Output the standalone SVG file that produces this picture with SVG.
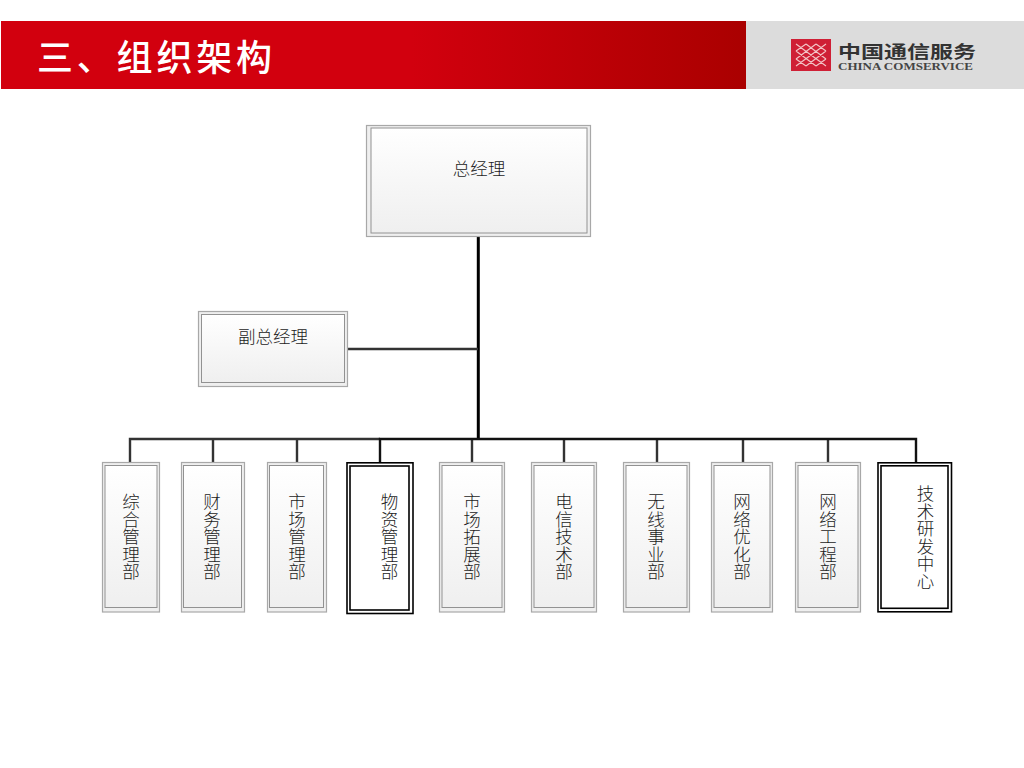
<svg xmlns="http://www.w3.org/2000/svg" width="1024" height="768" viewBox="0 0 1024 768">
<style>
.o{fill:#efefef;stroke:#a8a8a8;stroke-width:1.2}
.i{fill:url(#g);stroke:#929292;stroke-width:1}
.d{fill:#fff;stroke:#000;stroke-width:1.6}
.t{font-family:"Noto Sans CJK SC","Liberation Sans",sans-serif;font-size:17.5px;font-weight:300;fill:#1c1c1c;text-anchor:middle}
.c{fill:none;stroke:#333;stroke-width:2.4}
.k{fill:none;stroke:#111;stroke-width:2.4}
.b{fill:none;stroke:#000;stroke-width:3}
</style>
<defs>
<linearGradient id="g" x1="0" y1="0" x2="0" y2="1"><stop offset="0" stop-color="#ffffff"/><stop offset="1" stop-color="#efefef"/></linearGradient>
<linearGradient id="r" x1="0" y1="0" x2="1" y2="0"><stop offset="0" stop-color="#d2000e"/><stop offset="0.55" stop-color="#d2000e"/><stop offset="1" stop-color="#aa0000"/></linearGradient>
</defs>
<rect width="1024" height="768" fill="#fff"/>
<g id="header">
<rect x="1" y="21" width="745" height="68" fill="url(#r)"/>
<rect x="746" y="21" width="278" height="68" fill="#dcdcdc"/>
<text x="37" y="71" font-family="'Noto Sans CJK SC',sans-serif" font-size="36" font-weight="500" letter-spacing="3.8" fill="#fff">三、组织架构</text>
<g id="logo">
<rect x="791" y="39" width="40" height="32" fill="#cf1f35"/>
<path d="M796 44L826 66M806 44L826 59M816 44L826 51M796 51L816 66M796 59L806 66M826 44L796 66M816 44L796 59M806 44L796 51M826 51L806 66M826 59L816 66" stroke="#f3c3c6" stroke-width="1.2" fill="none"/>
<text x="838" y="57.500" font-family="'Noto Sans CJK SC',sans-serif" font-size="17" font-weight="700" textLength="138" lengthAdjust="spacingAndGlyphs" fill="#333">中国通信服务</text>
<text x="838" y="69.500" font-family="'Liberation Serif',serif" font-size="11" font-weight="700" textLength="135" lengthAdjust="spacingAndGlyphs" fill="#444">CHINA COMSERVICE</text>
</g>
</g>
<g id="connectors">
<path class="b" d="M478.300 237V439"/>
<path class="c" d="M348 349H478"/>
<path class="c" d="M130 462V439H380M213 439V462M297 439V462M472 439V462M564 439V462M657 439V462M743 439V462M828 439V462"/>
<path class="k" d="M380 462V439H916V462"/>
</g>
<g id="n-gm"><rect class="o" x="366.500" y="125.500" width="224" height="111"/><rect class="i" x="371" y="128" width="216" height="105"/><text class="t" x="479" y="175">总经理</text></g>
<g id="n-dgm"><rect class="o" x="198.500" y="311.500" width="149" height="75"/><rect class="i" x="201.500" y="314.500" width="143" height="68"/><text class="t" x="273" y="343">副总经理</text></g>
<g id="n1"><rect class="o" x="102.500" y="462.500" width="57" height="149.500"/><rect class="i" x="105" y="465.500" width="52" height="142"/><text class="t"><tspan x="131" y="508">综</tspan><tspan x="131" y="525.500">合</tspan><tspan x="131" y="543">管</tspan><tspan x="131" y="560.500">理</tspan><tspan x="131" y="578">部</tspan></text></g>
<g id="n2"><rect class="o" x="181.500" y="462.500" width="63" height="149.500"/><rect class="i" x="183.500" y="465.500" width="58" height="142"/><text class="t"><tspan x="212" y="508">财</tspan><tspan x="212" y="525.500">务</tspan><tspan x="212" y="543">管</tspan><tspan x="212" y="560.500">理</tspan><tspan x="212" y="578">部</tspan></text></g>
<g id="n3"><rect class="o" x="267.500" y="462.500" width="59" height="149.500"/><rect class="i" x="269.500" y="465.500" width="54" height="142"/><text class="t"><tspan x="297" y="508">市</tspan><tspan x="297" y="525.500">场</tspan><tspan x="297" y="543">管</tspan><tspan x="297" y="560.500">理</tspan><tspan x="297" y="578">部</tspan></text></g>
<g id="n4"><rect class="d" x="347" y="462.800" width="66" height="150.700"/><rect class="d" x="350" y="466" width="59" height="144"/><text class="t"><tspan x="389.500" y="508">物</tspan><tspan x="389.500" y="525.500">资</tspan><tspan x="389.500" y="543">管</tspan><tspan x="389.500" y="560.500">理</tspan><tspan x="389.500" y="578">部</tspan></text></g>
<g id="n5"><rect class="o" x="439.500" y="462.500" width="65" height="149.500"/><rect class="i" x="442" y="465.500" width="60" height="142"/><text class="t"><tspan x="472" y="508">市</tspan><tspan x="472" y="525.500">场</tspan><tspan x="472" y="543">拓</tspan><tspan x="472" y="560.500">展</tspan><tspan x="472" y="578">部</tspan></text></g>
<g id="n6"><rect class="o" x="531.500" y="462.500" width="65" height="149.500"/><rect class="i" x="534" y="465.500" width="60" height="142"/><text class="t"><tspan x="564" y="508">电</tspan><tspan x="564" y="525.500">信</tspan><tspan x="564" y="543">技</tspan><tspan x="564" y="560.500">术</tspan><tspan x="564" y="578">部</tspan></text></g>
<g id="n7"><rect class="o" x="623.500" y="462.500" width="66" height="149.500"/><rect class="i" x="626" y="465.500" width="61" height="142"/><text class="t"><tspan x="656" y="508">无</tspan><tspan x="656" y="525.500">线</tspan><tspan x="656" y="543">事</tspan><tspan x="656" y="560.500">业</tspan><tspan x="656" y="578">部</tspan></text></g>
<g id="n8"><rect class="o" x="711.500" y="462.500" width="61" height="149.500"/><rect class="i" x="714" y="465.500" width="56" height="142"/><text class="t"><tspan x="742" y="508">网</tspan><tspan x="742" y="525.500">络</tspan><tspan x="742" y="543">优</tspan><tspan x="742" y="560.500">化</tspan><tspan x="742" y="578">部</tspan></text></g>
<g id="n9"><rect class="o" x="795.500" y="462.500" width="65" height="149.500"/><rect class="i" x="798" y="465.500" width="60" height="142"/><text class="t"><tspan x="828" y="508">网</tspan><tspan x="828" y="525.500">络</tspan><tspan x="828" y="543">工</tspan><tspan x="828" y="560.500">程</tspan><tspan x="828" y="578">部</tspan></text></g>
<g id="n10"><rect class="d" x="878" y="462.800" width="73.500" height="149"/><rect class="d" x="881" y="465.800" width="67" height="142.500"/><text class="t"><tspan x="925.500" y="500">技</tspan><tspan x="925.500" y="517.500">术</tspan><tspan x="925.500" y="535">研</tspan><tspan x="925.500" y="552.500">发</tspan><tspan x="925.500" y="570">中</tspan><tspan x="925.500" y="587.500">心</tspan></text></g>
</svg>
